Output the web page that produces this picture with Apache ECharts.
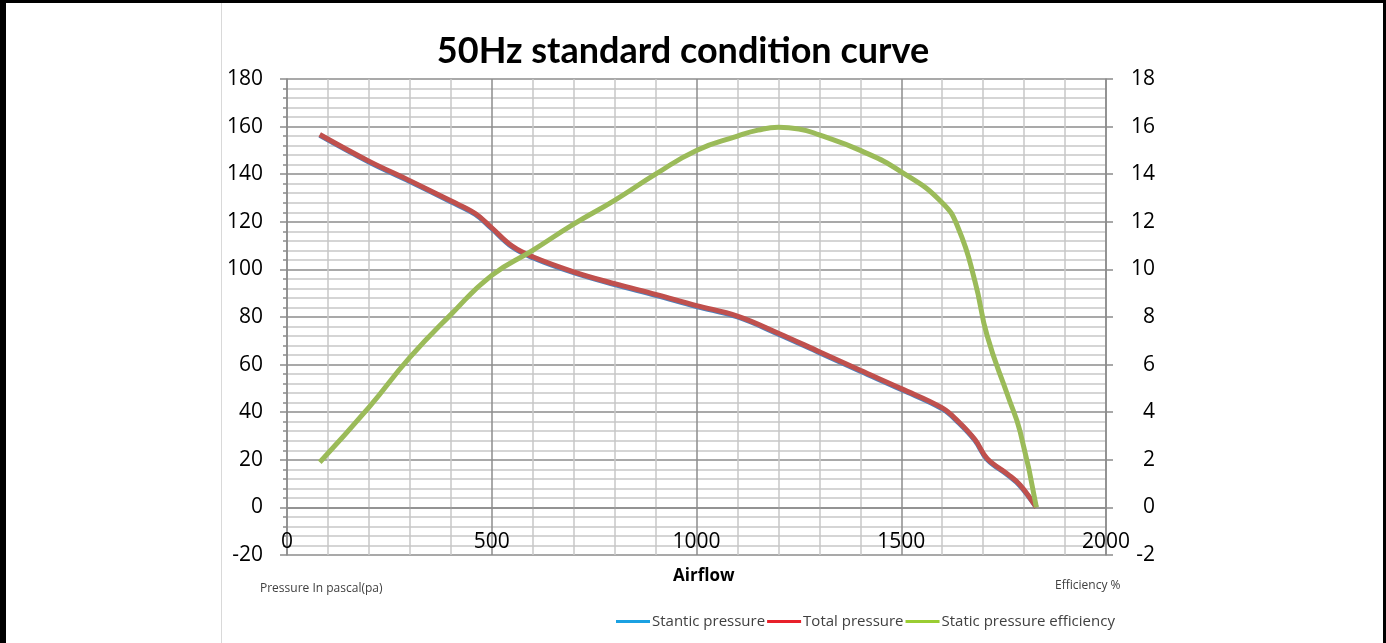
<!DOCTYPE html>
<html>
<head>
<meta charset="utf-8">
<script src="https://cdn.jsdelivr.net/npm/echarts@6/dist/echarts.min.js"></script>
<style>
  html, body { margin: 0; padding: 0; background: #fff; }
  #wrap { position: relative; width: 1386px; height: 643px; }
  #chart { position: absolute; left: 0; top: 0; width: 1386px; height: 643px; }
  #frame { position: absolute; left: 0; top: 0; width: 1386px; height: 643px; box-sizing: border-box;
           border-left: 6px solid #000; border-top: 3px solid #000; border-right: 3px solid #000; pointer-events: none; }
  #sep { position: absolute; left: 221px; top: 3px; width: 1px; height: 640px; background: #d9d9d9; }
</style>
</head>
<body>
<div id="wrap">
  <div id="chart"></div>
  <div id="sep"></div>
  <div id="frame"></div>
</div>
<script>
// Airflow sample points for the pressure curves (x axis)
const airflowPressure = [80, 200, 300, 400, 460, 500, 550, 600, 700, 800, 900, 1000, 1100, 1200, 1300, 1400, 1500, 1600, 1640, 1680, 1710, 1760, 1790, 1830];
// Static pressure (Pa)
const staticPressure = [156.3, 145.1, 136.9, 128.4, 123.1, 117.1, 109.4, 104.9, 98.6, 93.6, 89.1, 84.4, 80.0, 72.8, 65.0, 57.2, 49.5, 41.4, 35.6, 28.1, 20.1, 13.6, 9.1, 0];
// Total pressure (Pa)
const totalPressure = [156.7, 145.5, 137.3, 128.8, 123.5, 117.5, 109.8, 105.3, 99.0, 94.0, 89.5, 84.8, 80.4, 73.2, 65.4, 57.6, 49.9, 41.8, 36.0, 28.5, 20.5, 14.0, 9.5, 0];
// Airflow sample points for the efficiency curve
const airflowEfficiency = [80, 200, 300, 400, 500, 600, 700, 800, 900, 1000, 1100, 1150, 1200, 1250, 1300, 1400, 1500, 1600, 1640, 1680, 1710, 1760, 1790, 1830];
// Static pressure efficiency (%)
const efficiency = [1.9, 4.2, 6.3, 8.1, 9.75, 10.8, 11.9, 12.9, 14.0, 15.0, 15.6, 15.85, 15.97, 15.9, 15.65, 15.0, 14.1, 12.8, 11.7, 9.5, 7.2, 4.7, 3.2, 0];

const xTickLabels = ['0', '500', '1000', '1500', '2000'];
const seriesNames = ['Stantic pressure', 'Total pressure', 'Static pressure efficiency'];
const titleText = '50Hz standard condition curve';

function pairs(xs, ys) { return xs.map((x, i) => [x, ys[i]]); }

const chart = echarts.init(document.getElementById('chart'), null, { renderer: 'canvas' });
const labelFont = 'Open Sans, Noto Sans, sans-serif';

chart.setOption({
  animation: false,
  backgroundColor: 'transparent',
  title: {
    text: titleText,
    left: 678, top: 28, textAlign: 'center',
    textStyle: { fontFamily: 'Lato, sans-serif', fontWeight: 'bold', fontSize: 36, color: '#000' }
  },
  legend: {
    left: 611, top: 609,
    itemGap: 2, itemWidth: 34, itemHeight: 3,
    textStyle: { fontFamily: labelFont, fontSize: 15, color: '#404040', padding: [0, 0, 0, -3] },
    data: [
      { name: seriesNames[0], icon: 'rect', itemStyle: { color: '#1BA1E2' } },
      { name: seriesNames[1], icon: 'rect', itemStyle: { color: '#E8202A' } },
      { name: seriesNames[2], icon: 'rect', itemStyle: { color: '#9ACD32' } }
    ]
  },
  graphic: [
    { type: 'text', left: 673, top: 568, style: { text: 'Airflow', font: 'bold 17px ' + labelFont, fill: '#000' } },
    { type: 'text', left: 260, top: 583, style: { text: 'Pressure In pascal(pa)', font: '12px ' + labelFont, fill: '#404040' } },
    { type: 'text', left: 1055, top: 580, style: { text: 'Efficiency %', font: '12px ' + labelFont, fill: '#404040' } }
  ],
  grid: { left: 287, right: 280, top: 79, bottom: 88, containLabel: false },
  xAxis: {
    type: 'value', min: 0, max: 2000, interval: 500,
    axisLine: { show: true, lineStyle: { color: '#8c8c8c', width: 1.5 } },
    axisTick: { show: false },
    axisLabel: {
      margin: -23, fontFamily: labelFont, fontSize: 21, color: '#000',
      formatter: (v) => xTickLabels[Math.round(v / 500)]
    },
    splitLine: { show: true, lineStyle: { color: '#8c8c8c', width: 1.5 } },
    minorTick: { show: false, splitNumber: 5 },
    minorSplitLine: { show: true, lineStyle: { color: '#c8c8c8', width: 1.5 } }
  },
  yAxis: [
    {
      type: 'value', min: -20, max: 180, interval: 20, position: 'left',
      axisLine: { show: true, lineStyle: { color: '#8c8c8c', width: 1.5 } },
      axisTick: { show: true, length: 7, lineStyle: { color: '#8c8c8c', width: 1.5 } },
      minorTick: { show: true, splitNumber: 5, length: 4, lineStyle: { color: '#8c8c8c', width: 1.5 } },
      axisLabel: { margin: 24, fontFamily: labelFont, fontSize: 21, color: '#000' },
      splitLine: { show: true, lineStyle: { color: '#8c8c8c', width: 1.5 } },
      minorSplitLine: { show: true, lineStyle: { color: '#c8c8c8', width: 1.5 } }
    },
    {
      type: 'value', min: -2, max: 18, interval: 2, position: 'right',
      axisLine: { show: true, lineStyle: { color: '#8c8c8c', width: 1.5 } },
      axisTick: { show: true, length: 7, lineStyle: { color: '#8c8c8c', width: 1.5 } },
      axisLabel: { margin: 49, align: 'right', fontFamily: labelFont, fontSize: 21, color: '#000' },
      splitLine: { show: false }
    }
  ],
  series: [
    {
      name: seriesNames[0], type: 'line', yAxisIndex: 0, smooth: 0.4, symbol: 'none',
      data: pairs(airflowPressure, staticPressure),
      lineStyle: { color: '#4F81BD', width: 5 }, itemStyle: { color: '#1BA1E2' }, z: 2
    },
    {
      name: seriesNames[1], type: 'line', yAxisIndex: 0, smooth: 0.4, symbol: 'none',
      data: pairs(airflowPressure, totalPressure),
      lineStyle: { color: '#C0504D', width: 5 }, itemStyle: { color: '#E8202A' }, z: 3
    },
    {
      name: seriesNames[2], type: 'line', yAxisIndex: 1, smooth: 0.5, symbol: 'none',
      data: pairs(airflowEfficiency, efficiency),
      lineStyle: { color: '#9BBB59', width: 5 }, itemStyle: { color: '#9ACD32' }, z: 4
    }
  ]
});
</script>
</body>
</html>
